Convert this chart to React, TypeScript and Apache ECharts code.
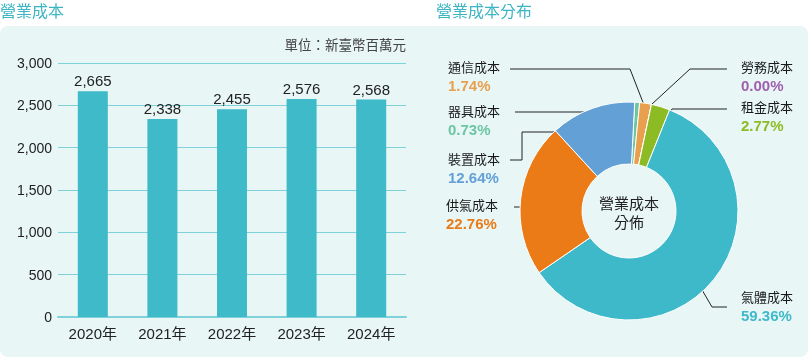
import React, { useEffect, useRef } from "react";
import * as echarts from "echarts";

const years = ["2020年", "2021年", "2022年", "2023年", "2024年"];
const costs = [2665, 2338, 2455, 2576, 2568];
const yTicks = { min: 0, max: 3000, interval: 500 };

const pieNames = ["器具成本", "通信成本", "勞務成本", "租金成本", "氣體成本", "供氣成本", "裝置成本"];
const pieValues = [0.73, 1.74, 0.0, 2.77, 59.36, 22.76, 12.64];
const pieColors = ["#6DC6A2", "#E9A04E", "#A25EB4", "#8DBB24", "#3EB9C9", "#EA7B17", "#62A0D6"];

const FONT = '"Liberation Sans", "Noto Sans CJK TC", sans-serif';

// label placement (layout only)
const labelPos: { x: number; y: number; line: number[][] }[] = [
  { x: 448, y: 120, line: [[515, 112], [637, 112]] },
  { x: 448, y: 76, line: [[510, 69], [630, 69], [644, 105]] },
  { x: 741, y: 76, line: [[652, 104], [690, 69], [727, 69]] },
  { x: 741, y: 116, line: [[657, 132], [672, 109], [727, 109]] },
  { x: 741, y: 306, line: [[698, 283], [712, 307], [727, 307]] },
  { x: 446, y: 214, line: [[514, 207], [548, 207]] },
  { x: 448, y: 168, line: [[510, 160], [522, 160], [522, 132], [567, 132]] },
];

export default function App() {
  const ref = useRef<HTMLDivElement>(null);
  useEffect(() => {
    if (!ref.current) return;
    const chart = echarts.init(ref.current, null, { renderer: "svg" });
    const rich: any = { n: { fontSize: 13, color: "#1a1a1a", fontFamily: FONT, lineHeight: 18 } };
    pieColors.forEach((c, i) => {
      rich["p" + i] = { fontSize: 15, fontWeight: "bold", color: c, fontFamily: FONT, lineHeight: 18 };
    });
    rich.p2 = { ...rich.p2, color: "#A060B0" };
    chart.setOption({
      animation: false,
      textStyle: { fontFamily: FONT },
      graphic: [
        { type: "rect", z: -10, shape: { x: 0, y: 26, width: 808, height: 331, r: 8 }, style: { fill: "#E8F6F6" } },
        { type: "text", x: 0, y: 11, style: { text: "營業成本", fill: "#3DB5C2", font: `16px ${FONT}`, textVerticalAlign: "middle" } },
        { type: "text", x: 436, y: 11, style: { text: "營業成本分布", fill: "#3DB5C2", font: `16px ${FONT}`, textVerticalAlign: "middle" } },
        { type: "text", x: 406, y: 45, style: { text: "單位：新臺幣百萬元", fill: "#444", font: `13.5px ${FONT}`, textAlign: "right", textVerticalAlign: "middle" } },
        { type: "text", x: 629, y: 213, z: 10, style: { text: "營業成本\n分佈", fill: "#222", font: `15px ${FONT}`, lineHeight: 19, textAlign: "center", textVerticalAlign: "middle" } },
      ],
      grid: { left: 58, right: 405, top: 63, bottom: 42, containLabel: false },
      xAxis: {
        type: "category",
        data: years,
        axisLine: { show: true, lineStyle: { color: "#7FD2DA", width: 2 } },
        axisTick: { show: false },
        axisLabel: { color: "#222", fontSize: 15, margin: 9, fontFamily: FONT },
      },
      yAxis: {
        type: "value",
        min: yTicks.min,
        max: yTicks.max,
        interval: yTicks.interval,
        axisLine: { show: false },
        axisTick: { show: false },
        axisLabel: { color: "#222", fontSize: 14, margin: 6, fontFamily: FONT, formatter: (v: number) => v.toLocaleString("en-US") },
        splitLine: { lineStyle: { color: "#7FD2DA", width: 1 } },
      },
      series: [
        {
          type: "bar",
          data: costs,
          barWidth: 30,
          itemStyle: { color: "#3EBAC9" },
          label: {
            show: true,
            position: "top",
            distance: 3,
            color: "#222",
            fontSize: 15,
            fontFamily: FONT,
            formatter: (p: any) => Number(p.value).toLocaleString("en-US"),
          },
        },
        {
          type: "pie",
          center: [629, 211],
          radius: [47, 109],
          startAngle: 87,
          clockwise: true,
          avoidLabelOverlap: false,
          minShowLabelAngle: 0,
          itemStyle: { borderColor: "#fff", borderWidth: 1 },
          data: pieNames.map((n, i) => ({ name: n, value: pieValues[i], itemStyle: { color: pieColors[i] } })),
          label: {
            show: true,
            formatter: (p: any) => `{n|${p.name}}\n{p${p.dataIndex}|${Number(p.value).toFixed(2)}%}`,
            rich,
          },
          labelLine: { show: true, lineStyle: { color: "#222", width: 1 } },
          labelLayout: (params: any) => {
            const lp = labelPos[params.dataIndex];
            return { x: lp.x, y: lp.y, align: "left", verticalAlign: "middle", labelLinePoints: lp.line, hideOverlap: false };
          },
          emphasis: { disabled: true },
        },
      ],
    });
    return () => chart.dispose();
  }, []);
  return <div ref={ref} style={{ position: "fixed", left: 0, top: 0, width: 811, height: 359 }} />;
}
